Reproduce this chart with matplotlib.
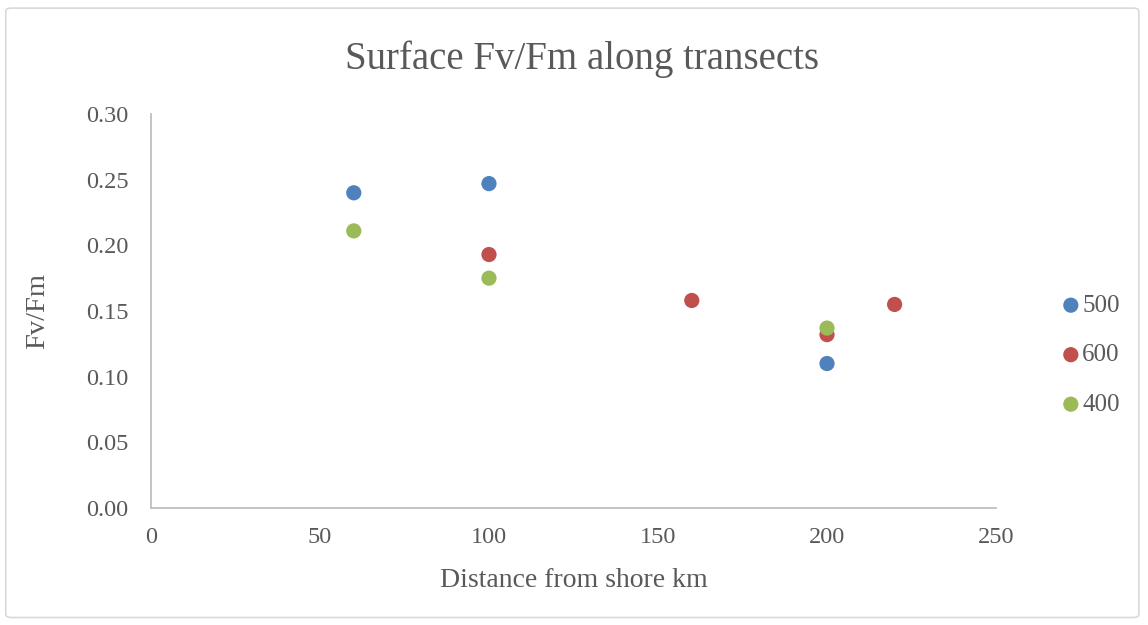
import matplotlib
matplotlib.use("Agg")
import matplotlib.pyplot as plt
from matplotlib.patches import FancyBboxPatch

series_names = ["500", "600", "400"]
x_500 = [60, 100, 200]
y_500 = [0.240, 0.247, 0.110]
x_600 = [100, 160, 200, 220]
y_600 = [0.193, 0.158, 0.132, 0.155]
x_400 = [60, 100, 200]
y_400 = [0.211, 0.175, 0.137]
x_ticks = [0, 50, 100, 150, 200, 250]
y_ticks = [0.00, 0.05, 0.10, 0.15, 0.20, 0.25, 0.30]

colors = ["#4F81BD", "#C0504D", "#9BBB59"]
text_color = "#595959"
plt.rcParams['font.family'] = ['Liberation Serif', 'DejaVu Serif']

fig = plt.figure(figsize=(11.48, 6.25), dpi=100)
fig.patches.append(FancyBboxPatch((0.005, 0.012), 0.987, 0.975, boxstyle="round,pad=0,rounding_size=0.005",
                                  transform=fig.transFigure, facecolor="white", edgecolor="#D9D9D9", lw=1.2, zorder=-1))
ax = fig.add_axes([0.1315, 0.1872, 0.7361, 0.6304])
ax.set_facecolor("none")

for xs, ys, c, n in zip([x_500, x_600, x_400], [y_500, y_600, y_400], colors, series_names):
    ax.scatter(xs, ys, s=120, color=c, label=n, zorder=3, edgecolors="none")

ax.set_xlim(0, 250)
ax.set_ylim(0, 0.30)
ax.set_xticks(x_ticks)
ax.set_yticks(y_ticks)
ax.set_xticklabels([str(v) for v in x_ticks])
ax.set_yticklabels([f"{v:.2f}" for v in y_ticks])
ax.tick_params(length=0, labelsize=17.5, colors=text_color)
ax.tick_params(axis="y", pad=16)
ax.tick_params(axis="x", pad=14)
for s in ["top", "right"]:
    ax.spines[s].set_visible(False)
for s in ["left", "bottom"]:
    ax.spines[s].set_color("#BFBFBF")
    ax.spines[s].set_linewidth(1.3)

ax.set_xlabel("Distance from shore km", fontsize=20, color=text_color, labelpad=14)
ax.set_ylabel("Fv/Fm", fontsize=20.5, color=text_color, labelpad=26)
fig.text(0.507, 0.906, "Surface Fv/Fm along transects", ha="center", va="center", fontsize=28, color=text_color)

leg = fig.legend(loc="center left", bbox_to_anchor=(0.911, 0.432), frameon=False, fontsize=18,
                 handletextpad=-0.05, labelspacing=1.08, handlelength=1.0, labelcolor=text_color, borderpad=0)

fig.savefig("out.png", dpi=100)
